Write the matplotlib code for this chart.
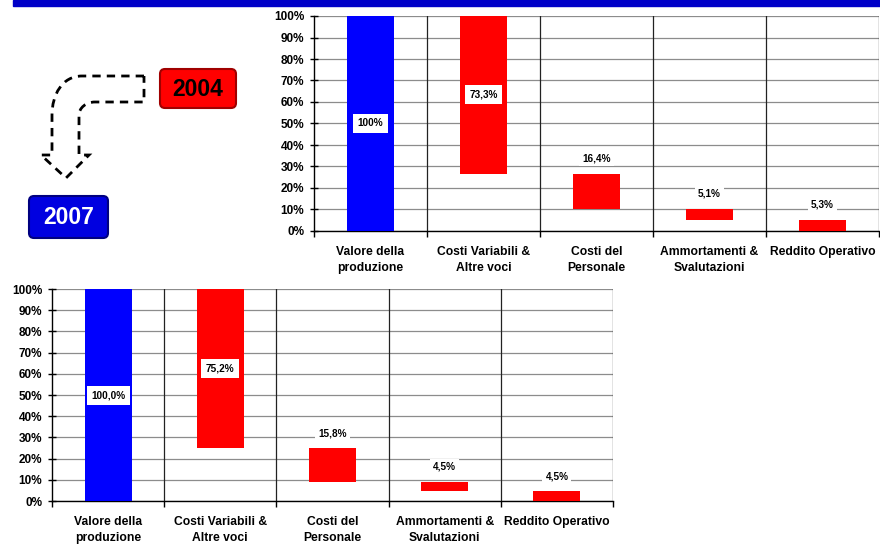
import numpy as np
import matplotlib
matplotlib.use("Agg")
import matplotlib.pyplot as plt
from matplotlib.patches import FancyBboxPatch, Rectangle
from matplotlib.path import Path
from matplotlib.patches import PathPatch

plt.rcParams['font.family'] = ['Liberation Sans', 'DejaVu Sans']
plt.rcParams['font.weight'] = 'bold'

# ===========  DATI  ===========
categorie = ["Valore della\nproduzione", "Costi Variabili &\nAltre voci", "Costi del\nPersonale",
             "Ammortamenti &\nSvalutazioni", "Reddito Operativo"]
valori_2004 = [100.0, 73.3, 16.4, 5.1, 5.3]
etichette_2004 = ["100%", "73,3%", "16,4%", "5,1%", "5,3%"]
valori_2007 = [100.0, 75.2, 15.8, 4.5, 4.5]
etichette_2007 = ["100,0%", "75,2%", "15,8%", "4,5%", "4,5%"]

BLU = "#0000FF"
ROSSO = "#FF0000"

W, H = 880, 544
fig = plt.figure(figsize=(8.8, 5.44), dpi=100)


def px_axes(x0, y0, x1, y1):
    # rettangolo in pixel (origine in alto a sinistra)
    return fig.add_axes([x0 / W, 1 - y1 / H, (x1 - x0) / W, (y1 - y0) / H])


def cascata(ax, valori, etichette):
    n = len(valori)
    basi = []
    livello = valori[0]
    for i, v in enumerate(valori):
        if i == 0 or i == n - 1:
            basi.append(0.0)
        else:
            livello = livello - v
            basi.append(livello)
    colori = [BLU] + [ROSSO] * (n - 1)
    x = np.arange(n)
    ax.bar(x, valori, bottom=basi, width=0.42, color=colori, zorder=3)

    ax.set_xlim(-0.5, n - 0.5)
    ax.set_ylim(0, 100)
    ax.set_yticks(np.arange(0, 101, 10))
    ax.set_yticklabels([f"{t}%" for t in range(0, 101, 10)], fontsize=8.5, fontweight='bold')
    ax.yaxis.grid(True, color="#8c8c8c", linewidth=0.9, zorder=0)
    ax.set_axisbelow(True)

    # linee verticali tra le categorie
    confini = np.arange(-0.5, n, 1.0)
    ax.set_xticks(confini, minor=False)
    ax.set_xticklabels([""] * len(confini))
    ax.set_xticks(x, minor=True)
    ax.set_xticklabels(categorie, minor=True, fontsize=8.7, fontweight='bold', linespacing=1.45)
    ax.tick_params(axis='x', which='minor', length=0, pad=11)
    ax.tick_params(axis='x', which='major', length=4, direction='out', width=1)
    ax.tick_params(axis='y', length=6, direction='inout', width=1, pad=4)
    for c in confini[1:]:
        ax.axvline(c, color="#222222", linewidth=0.9, zorder=1)

    for s in ["top", "right"]:
        ax.spines[s].set_visible(False)
    ax.spines["left"].set_linewidth(1)
    ax.spines["bottom"].set_linewidth(1)

    for i, (v, b, lab) in enumerate(zip(valori, basi, etichette)):
        if v > 50 or i == 1:
            ax.text(i, b + v / 2, lab, ha='center', va='center', fontsize=7.2, fontweight='bold',
                    zorder=5, bbox=dict(boxstyle="square,pad=0.45", fc="white", ec="none"))
        else:
            ax.annotate(lab, (i, b + v), xytext=(0, 11), textcoords="offset points",
                        ha='center', va='center', fontsize=7.2, fontweight='bold', zorder=5,
                        bbox=dict(boxstyle="square,pad=0.3", fc="white", ec="none"))


ax_top = px_axes(314, 16, 879, 231)
cascata(ax_top, valori_2004, etichette_2004)

ax_bot = px_axes(52, 289, 613, 501)
cascata(ax_bot, valori_2007, etichette_2007)

# ===========  DECORAZIONI  ===========
ov = fig.add_axes([0, 0, 1, 1], zorder=-1)
ov.set_xlim(0, W)
ov.set_ylim(H, 0)
ov.axis("off")
ov.add_patch(Rectangle((13, 0), 867, 6, color="#0000C8"))

ov2 = fig.add_axes([0, 0, 1, 1], zorder=10)
ov2.set_xlim(0, W)
ov2.set_ylim(H, 0)
ov2.axis("off")
ov2.patch.set_alpha(0)

# freccia tratteggiata
verts = [(144, 76), (82, 76), (62, 76), (52, 95), (52, 115), (52, 155), (41, 155), (66, 178),
         (89, 155), (79, 155), (79, 115), (79, 108), (86, 102), (95, 102), (144, 102), (144, 76)]
codes = [Path.MOVETO, Path.LINETO, Path.CURVE4, Path.CURVE4, Path.CURVE4, Path.LINETO, Path.LINETO,
         Path.LINETO, Path.LINETO, Path.LINETO, Path.LINETO, Path.CURVE4, Path.CURVE4, Path.CURVE4,
         Path.LINETO, Path.LINETO]
ov2.add_patch(PathPatch(Path(verts, codes), fill=False, ec="black", lw=2, ls=(0, (3, 2.2))))

for (x0, y0, x1, y1, fc, ec, tc, txt) in [(158, 67, 238, 110, "#FF0000", "#A00000", "black", "2004"),
                                           (27, 194, 110, 240, "#0000E0", "#000080", "white", "2007")]:
    ov2.add_patch(FancyBboxPatch((x0 + 2, y0 + 2), x1 - x0 - 4, y1 - y0 - 4,
                                 boxstyle="round,pad=0,rounding_size=5", fc=fc, ec=ec, lw=1.5))
    ov2.text((x0 + x1) / 2, (y0 + y1) / 2 + 1, txt, ha='center', va='center', color=tc,
             fontsize=16.5, fontweight='bold')

fig.savefig("out.png", dpi=100)
